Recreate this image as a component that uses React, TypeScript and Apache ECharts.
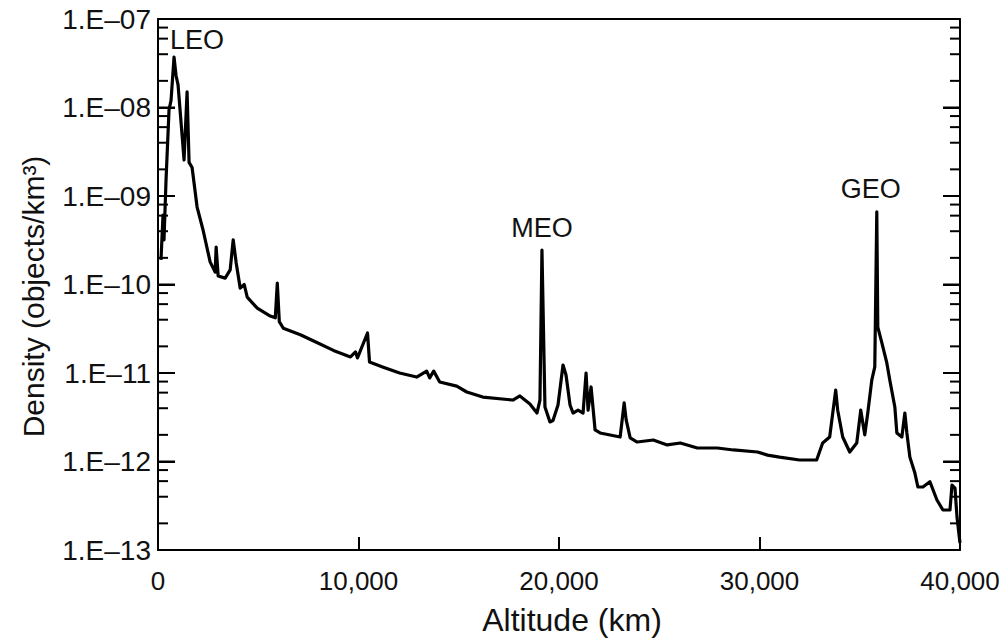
import React, { useEffect, useRef } from "react";
import * as echarts from "echarts";

// Altitude (km) and spatial density (objects/km^3)
const altitudeKm = [
  150, 250, 300, 400, 550, 650, 800, 900, 1000, 1300, 1450, 1550, 1700, 1950, 2250,
  2600, 2850, 2900, 3000, 3350, 3600, 3750, 3900, 4100, 4300, 4450, 4950, 5600, 5850,
  5950, 6050, 6250, 7100, 7950, 8750, 9600, 9850, 9950, 10450, 10550, 11200, 12050,
  12900, 13400, 13550, 13750, 14050, 14900, 15400, 16200, 17700, 18050, 18550, 18900,
  19050, 19150, 19300, 19550, 19700, 19950, 20200, 20350, 20550, 20700, 20950, 21200,
  21350, 21450, 21600, 21800, 22050, 23050, 23250, 23350, 23550, 23900, 24700, 25400,
  26050, 26900, 27900, 28700, 29900, 30400, 31000, 32000, 32850, 33150, 33500, 33800,
  33900, 34150, 34500, 34850, 35050, 35250, 35400, 35600, 35750, 35850, 35900, 36100,
  36350, 36500, 36750, 36850, 37100, 37250, 37350, 37500, 37750, 37900, 38150, 38500,
  38850, 39150, 39500, 39600, 39750, 39850, 40000,
];
const density = [
  1.9e-10, 6.1e-10, 3.2e-10, 1.5e-9, 9.4e-9, 1.2e-8, 3.7e-8, 2.3e-8, 1.8e-8, 2.55e-9,
  1.5e-8, 2.4e-9, 2.1e-9, 7.5e-10, 4.1e-10, 1.8e-10, 1.38e-10, 2.65e-10, 1.25e-10,
  1.18e-10, 1.46e-10, 3.2e-10, 1.75e-10, 9.1e-11, 1.0e-10, 7.2e-11, 5.4e-11, 4.4e-11,
  4.2e-11, 1.04e-10, 3.8e-11, 3.2e-11, 2.7e-11, 2.2e-11, 1.8e-11, 1.52e-11, 1.73e-11,
  1.48e-11, 2.83e-11, 1.33e-11, 1.17e-11, 1.0e-11, 9.0e-12, 1.05e-11, 8.8e-12, 1.05e-11,
  7.9e-12, 7.1e-12, 6.1e-12, 5.35e-12, 4.95e-12, 5.5e-12, 4.47e-12, 3.53e-12, 4.95e-12,
  2.45e-10, 4.13e-12, 2.8e-12, 2.9e-12, 4.35e-12, 1.23e-11, 9.5e-12, 4.35e-12, 3.53e-12,
  3.8e-12, 3.53e-12, 1.0e-11, 3.8e-12, 6.95e-12, 2.27e-12, 2.1e-12, 1.89e-12, 4.6e-12,
  2.95e-12, 1.85e-12, 1.66e-12, 1.75e-12, 1.54e-12, 1.62e-12, 1.42e-12, 1.42e-12,
  1.35e-12, 1.28e-12, 1.18e-12, 1.12e-12, 1.04e-12, 1.04e-12, 1.62e-12, 1.89e-12,
  6.4e-12, 3.8e-12, 1.89e-12, 1.28e-12, 1.62e-12, 3.8e-12, 2.0e-12, 3.53e-12, 8.3e-12,
  1.17e-11, 6.6e-10, 3.3e-11, 2.2e-11, 1.3e-11, 8.3e-12, 4.13e-12, 2.1e-12, 1.89e-12,
  3.53e-12, 2.1e-12, 1.12e-12, 7.4e-13, 5.15e-13, 5.15e-13, 5.9e-13, 3.67e-13, 2.83e-13,
  2.83e-13, 5.4e-13, 5.0e-13, 2.36e-13, 1.2e-13,
];

// Orbit regime labels: name, altitude and density at the peak
const regimeNames = ["LEO", "MEO", "GEO"];
const regimeAltitude = [800, 19150, 35850];
const regimeDensity = [3.7e-8, 2.45e-10, 6.6e-10];

const xTicks = [0, 10000, 20000, 30000, 40000];
const decadeExponents = [-13, -12, -11, -10, -9, -8, -7];
const minorMultipliers = [2, 4, 6, 8];

const FONT = '"Liberation Sans", Arial, Helvetica, sans-serif';
const INK = "#000";

export default function App() {
  const ref = useRef<HTMLDivElement>(null);

  useEffect(() => {
    if (!ref.current) return;
    const chart = echarts.init(ref.current, undefined, { renderer: "svg" });

    const xMin = xTicks[0];
    const xMax = xTicks[xTicks.length - 1];
    const yMin = Math.pow(10, decadeExponents[0]);
    const yMax = Math.pow(10, decadeExponents[decadeExponents.length - 1]);

    // log ticks on the left and right frame edges: [side, value, length]
    const frameTickData: number[][] = [];
    for (let i = 0; i < decadeExponents.length; i++) {
      const d = Math.pow(10, decadeExponents[i]);
      frameTickData.push([xMin, d, 17]);
      frameTickData.push([xMax, d, 17]);
      if (i < decadeExponents.length - 1) {
        for (const m of minorMultipliers) {
          frameTickData.push([xMin, m * d, 10]);
          frameTickData.push([xMax, m * d, 10]);
        }
      }
    }

    const yLabel = (v: number) => {
      const e = Math.round(Math.log10(v));
      return "1.E\u2013" + String(-e).padStart(2, "0");
    };

    const yAxisBase = {
      type: "log" as const,
      logBase: 10,
      min: yMin,
      max: yMax,
      splitLine: { show: false },
      axisLine: { show: true, onZero: false, lineStyle: { color: INK, width: 2 } },
      axisTick: { show: true, inside: true, length: 17, lineStyle: { color: INK, width: 2 } },
    };

    chart.setOption({
      animation: false,
      backgroundColor: "#fff",
      grid: {
        left: 158,
        right: 42,
        top: 19,
        bottom: 93,
        containLabel: false,
        outerBoundsMode: "none",
      },
      xAxis: [
        {
          type: "value",
          min: xMin,
          max: xMax,
          interval: 10000,
          name: "Altitude (km)",
          nameLocation: "middle",
          nameGap: 54,
          nameTextStyle: { fontFamily: FONT, fontSize: 32, color: "#111", padding: [0, 0, 0, 26] },
          axisLine: { show: true, onZero: false, lineStyle: { color: INK, width: 2 } },
          axisTick: { show: true, inside: true, length: 13, lineStyle: { color: INK, width: 2 } },
          splitLine: { show: false },
          axisLabel: {
            fontFamily: FONT,
            fontSize: 26,
            color: "#111",
            margin: 18,
            formatter: (v: number) => v.toLocaleString("en-US"),
          },
        },
        {
          type: "value",
          position: "top",
          min: xMin,
          max: xMax,
          axisLine: { show: true, onZero: false, lineStyle: { color: INK, width: 2 } },
          axisTick: { show: false },
          axisLabel: { show: false },
          splitLine: { show: false },
        },
        {
          type: "value",
          position: "bottom",
          min: xMin,
          max: xMax,
          interval: 10000,
          axisLine: { show: false, onZero: false },
          axisTick: { show: true, inside: true, length: 13, lineStyle: { color: INK, width: 2 } },
          axisLabel: { show: false },
          splitLine: { show: false },
        },
      ],
      yAxis: [
        {
          ...yAxisBase,
          position: "left",
          name: "Density (objects/km\u00b3)",
          nameLocation: "middle",
          nameGap: 110,
          nameRotate: 90,
          nameTextStyle: { fontFamily: FONT, fontSize: 30, color: "#111", padding: [0, 24, 0, 0] },
          axisLabel: {
            fontFamily: FONT,
            fontSize: 28,
            color: "#111",
            margin: 7,
            formatter: yLabel,
          },
        },
        {
          ...yAxisBase,
          position: "right",
          axisLabel: { show: false },
        },
        {
          ...yAxisBase,
          position: "left",
          axisLine: { show: false, onZero: false },
          axisLabel: { show: false },
        },
      ],
      series: [
        {
          type: "line",
          xAxisIndex: 0,
          yAxisIndex: 0,
          data: altitudeKm.map((a, i) => [a, density[i]]),
          showSymbol: false,
          lineStyle: { color: "#000", width: 3.2, join: "round" },
          z: 3,
          markPoint: {
            symbol: "circle",
            symbolSize: 0,
            label: {
              show: true,
              position: "top",
              fontFamily: FONT,
              fontSize: 27,
              color: "#111",
            },
            data: regimeNames.map((n, i) => ({
              name: n,
              coord: [regimeAltitude[i], regimeDensity[i]],
              label: {
                formatter: n,
                distance: i === 0 ? 4 : 9,
                offset: i === 0 ? [23, 0] : i === 2 ? [-6, 0] : [0, 0],
              },
            })),
          },
        },
        {
          type: "custom",
          xAxisIndex: 0,
          yAxisIndex: 0,
          data: frameTickData,
          silent: true,
          clip: false,
          z: 10,
          renderItem: (_params: any, api: any) => {
            const side = api.value(0);
            const p = api.coord([side, api.value(1)]);
            const dir = side < (xMin + xMax) / 2 ? 1 : -1;
            return {
              type: "line",
              shape: { x1: p[0], y1: p[1], x2: p[0] + dir * api.value(2), y2: p[1] },
              style: { stroke: INK, lineWidth: 2 },
            };
          },
        },
      ],
    });

    return () => chart.dispose();
  }, []);

  return (
    <div
      ref={ref}
      style={{ position: "absolute", left: 0, top: 0, width: 1002, height: 643, background: "#fff" }}
    />
  );
}
